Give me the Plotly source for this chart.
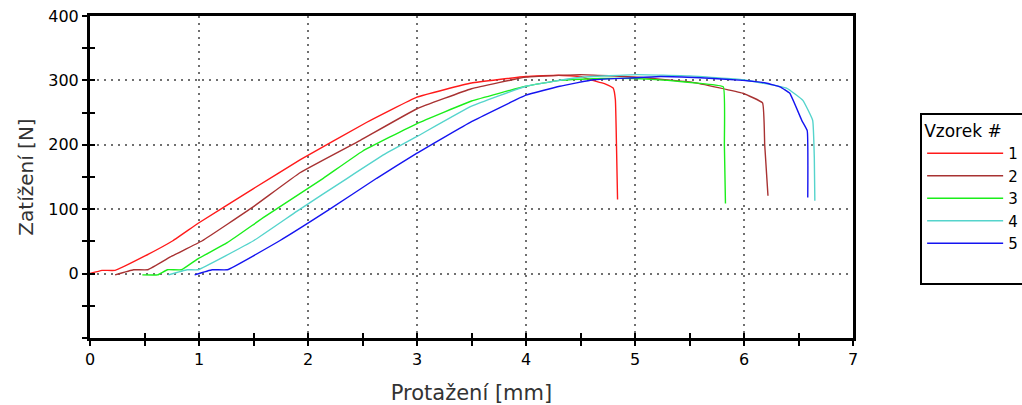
import plotly.graph_objects as go

# ---- data ----
x1 = [0, 0.11, 0.23, 0.5, 0.76, 1.0, 1.5, 1.93, 2.54, 3.0, 3.5, 4.0, 4.3, 4.5, 4.61, 4.72, 4.80, 4.82, 4.83, 4.84]
y1 = [0, 5, 5, 27, 51, 79, 132, 177, 235, 274, 296, 306, 308, 306, 300, 295, 288, 270, 200, 115]

x2 = [0.23, 0.40, 0.53, 0.75, 1.03, 1.5, 1.93, 2.48, 3.0, 3.5, 4.0, 4.5, 5.02, 5.53, 5.99, 6.17, 6.19, 6.22]
y2 = [-2, 6, 6, 27, 51, 104, 157, 207, 256, 287, 305, 309, 305, 297, 280, 265, 200, 121]

x3 = [0.48, 0.62, 0.71, 0.84, 0.99, 1.26, 1.6, 2.14, 2.5, 3.0, 3.5, 4.0, 4.31, 4.68, 5.0, 5.3, 5.62, 5.81, 5.82, 5.83]
y3 = [-2, -2, 6, 6, 23, 48, 88, 148, 190, 233, 268, 291, 300, 303, 303, 300, 295, 290, 200, 109]

x4 = [0.72, 0.89, 0.99, 1.5, 1.9, 2.36, 2.7, 3.0, 3.5, 4.0, 4.5, 5.02, 5.5, 5.99, 6.39, 6.54, 6.63, 6.645, 6.65]
y4 = [-2, 6, 6, 51, 97, 148, 185, 213, 260, 291, 305, 309, 307, 301, 288, 269, 238, 180, 113]

x5 = [0.96, 1.12, 1.26, 1.74, 2.2, 2.63, 3.0, 3.5, 4.0, 4.31, 4.62, 5.0, 5.23, 5.6, 5.99, 6.2, 6.33, 6.42, 6.53, 6.58, 6.585]
y5 = [-2, 6, 6, 51, 100, 148, 187, 236, 277, 291, 301, 304, 306, 304, 300, 296, 290, 280, 238, 222, 118]

names = ["1", "2", "3", "4", "5"]
colors = ["#ff1a1a", "#a83232", "#1aee1a", "#55d4cc", "#1414f0"]

x_tick_vals = [0, 1, 2, 3, 4, 5, 6, 7]
x_tick_text = ["0", "1", "2", "3", "4", "5", "6", "7"]
y_tick_vals = [0, 100, 200, 300, 400]
y_tick_text = ["0", "100", "200", "300", "400"]

fig = go.Figure()
for xs, ys, n, c in zip([x1, x2, x3, x4, x5], [y1, y2, y3, y4, y5], names, colors):
    fig.add_trace(go.Scatter(x=xs, y=ys, mode="lines", name=n, legendgroup="a",
                             line=dict(color=c, width=1.4, shape="spline", smoothing=0.3)))

# blank legend row (reproduces the empty space at the bottom of the legend box)
fig.add_trace(go.Scatter(x=[None], y=[None], mode="lines", name=" ", legendgroup="b",
                         line=dict(color="rgba(0,0,0,0)", width=0), hoverinfo="skip"))

# dummy trace to realise overlay axes (inside ticks)
fig.add_trace(go.Scatter(x=[None], y=[None], xaxis="x2", yaxis="y2", showlegend=False, hoverinfo="skip"))

font = "DejaVu Sans, Verdana, sans-serif"
grid = dict(showgrid=True, gridcolor="#707070", gridwidth=2, griddash="2px,5px")

fig.update_layout(
    width=1022, height=405,
    margin=dict(l=90, r=169, t=16, b=67, autoexpand=False),
    paper_bgcolor="white", plot_bgcolor="white",
    font=dict(family=font, size=16, color="black"),
    xaxis=dict(range=[0, 7], tickvals=x_tick_vals, ticktext=x_tick_text,
               ticks="outside", ticklen=5, tickwidth=2, tickcolor="black",
               minor=dict(dtick=0.5, tick0=0, ticks="outside", ticklen=5, tickwidth=2, tickcolor="black"),
               showline=True, linecolor="black", linewidth=3, mirror=True,
               zeroline=False, fixedrange=True, tickfont=dict(size=16),
               title=dict(text="Protažení [mm]", font=dict(size=21, color="#333333"), standoff=18),
               **grid),
    yaxis=dict(range=[-100, 400], tickvals=y_tick_vals, ticktext=y_tick_text,
               ticks="outside", ticklen=5, tickwidth=2, tickcolor="black",
               minor=dict(dtick=50, tick0=0, ticks="outside", ticklen=5, tickwidth=2, tickcolor="black"),
               showline=True, linecolor="black", linewidth=3, mirror=True,
               zeroline=False, fixedrange=True, tickfont=dict(size=16),
               title=dict(text="Zatížení [N]", font=dict(size=20, color="#333333"), standoff=10),
               **grid),
    xaxis2=dict(overlaying="x", range=[0, 7], dtick=0.5, tick0=0, ticks="inside", ticklen=5,
                tickwidth=2, tickcolor="black", showticklabels=False, showgrid=False,
                zeroline=False, showline=False, anchor="y2", side="bottom"),
    yaxis2=dict(overlaying="y", range=[-100, 400], dtick=50, tick0=0, ticks="inside", ticklen=5,
                tickwidth=2, tickcolor="black", showticklabels=False, showgrid=False,
                zeroline=False, showline=False, anchor="x2", side="left"),
    legend=dict(x=1.088, y=0.699, xanchor="left", yanchor="top",
                bordercolor="black", borderwidth=2, bgcolor="white",
                font=dict(size=15, color="black"),
                title=dict(text="Vzorek #", font=dict(size=17, color="black")),
                itemwidth=76, tracegroupgap=0),
    showlegend=True,
)

fig.write_html("out.html")
